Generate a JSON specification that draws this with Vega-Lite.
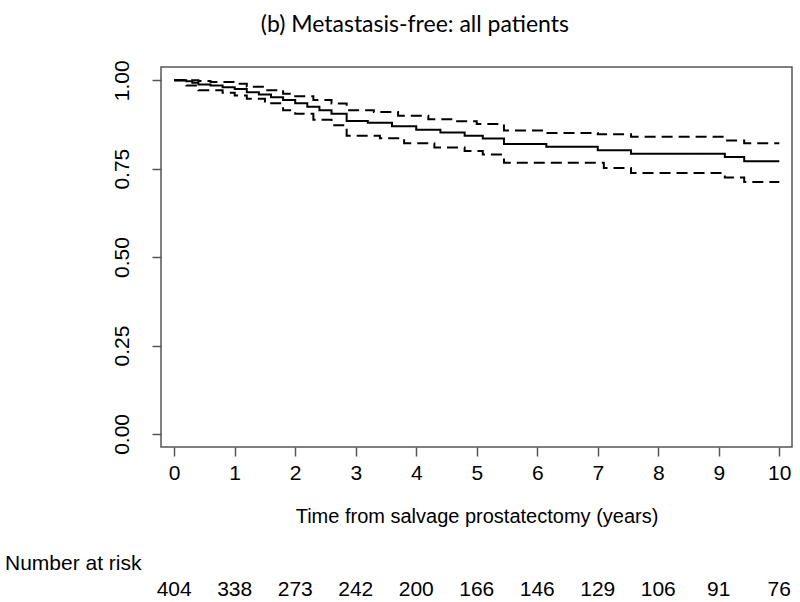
{
  "$schema": "https://vega.github.io/schema/vega-lite/v6.json",
  "padding": {"left": 5, "top": 14, "right": 0, "bottom": 0},
  "background": "white",
  "title": {"text": "(b)  Metastasis-free: all patients", "font": "Lato", "fontSize": 23, "fontWeight": "normal", "color": "black", "anchor": "middle", "dx": 16, "offset": 22},
  "config": {"view": {"stroke": null}, "font": "Liberation Sans"},
  "spacing": 26,
  "datasets": {
    "km": [
      {"time": 0, "surv": 1.0, "series": "estimate"},
      {"time": 0.2, "surv": 0.997, "series": "estimate"},
      {"time": 0.3, "surv": 0.993, "series": "estimate"},
      {"time": 0.4, "surv": 0.988, "series": "estimate"},
      {"time": 0.6, "surv": 0.985, "series": "estimate"},
      {"time": 0.8, "surv": 0.98, "series": "estimate"},
      {"time": 1.0, "surv": 0.975, "series": "estimate"},
      {"time": 1.2, "surv": 0.966, "series": "estimate"},
      {"time": 1.4, "surv": 0.96, "series": "estimate"},
      {"time": 1.6, "surv": 0.952, "series": "estimate"},
      {"time": 1.8, "surv": 0.944, "series": "estimate"},
      {"time": 2.0, "surv": 0.935, "series": "estimate"},
      {"time": 2.2, "surv": 0.925, "series": "estimate"},
      {"time": 2.4, "surv": 0.915, "series": "estimate"},
      {"time": 2.6, "surv": 0.905, "series": "estimate"},
      {"time": 2.85, "surv": 0.885, "series": "estimate"},
      {"time": 3.2, "surv": 0.88, "series": "estimate"},
      {"time": 3.6, "surv": 0.87, "series": "estimate"},
      {"time": 4.0, "surv": 0.86, "series": "estimate"},
      {"time": 4.4, "surv": 0.852, "series": "estimate"},
      {"time": 4.8, "surv": 0.843, "series": "estimate"},
      {"time": 5.1, "surv": 0.835, "series": "estimate"},
      {"time": 5.45, "surv": 0.82, "series": "estimate"},
      {"time": 6.15, "surv": 0.812, "series": "estimate"},
      {"time": 7.0, "surv": 0.802, "series": "estimate"},
      {"time": 7.55, "surv": 0.792, "series": "estimate"},
      {"time": 9.1, "surv": 0.783, "series": "estimate"},
      {"time": 9.42, "surv": 0.771, "series": "estimate"},
      {"time": 10.0, "surv": 0.771, "series": "estimate"},
      {"time": 0, "surv": 1.0, "series": "upper"},
      {"time": 0.4, "surv": 0.998, "series": "upper"},
      {"time": 0.6, "surv": 0.995, "series": "upper"},
      {"time": 1.0, "surv": 0.99, "series": "upper"},
      {"time": 1.2, "surv": 0.982, "series": "upper"},
      {"time": 1.5, "surv": 0.972, "series": "upper"},
      {"time": 1.8, "surv": 0.962, "series": "upper"},
      {"time": 2.0, "surv": 0.955, "series": "upper"},
      {"time": 2.3, "surv": 0.944, "series": "upper"},
      {"time": 2.6, "surv": 0.934, "series": "upper"},
      {"time": 2.85, "surv": 0.915, "series": "upper"},
      {"time": 3.3, "surv": 0.91, "series": "upper"},
      {"time": 3.7, "surv": 0.9, "series": "upper"},
      {"time": 4.2, "surv": 0.89, "series": "upper"},
      {"time": 4.6, "surv": 0.884, "series": "upper"},
      {"time": 5.0, "surv": 0.876, "series": "upper"},
      {"time": 5.45, "surv": 0.858, "series": "upper"},
      {"time": 6.15, "surv": 0.851, "series": "upper"},
      {"time": 7.0, "surv": 0.847, "series": "upper"},
      {"time": 7.55, "surv": 0.84, "series": "upper"},
      {"time": 9.1, "surv": 0.83, "series": "upper"},
      {"time": 9.42, "surv": 0.822, "series": "upper"},
      {"time": 10.0, "surv": 0.822, "series": "upper"},
      {"time": 0, "surv": 1.0, "series": "lower"},
      {"time": 0.2, "surv": 0.985, "series": "lower"},
      {"time": 0.4, "surv": 0.972, "series": "lower"},
      {"time": 0.8, "surv": 0.965, "series": "lower"},
      {"time": 1.0, "surv": 0.957, "series": "lower"},
      {"time": 1.2, "surv": 0.948, "series": "lower"},
      {"time": 1.5, "surv": 0.935, "series": "lower"},
      {"time": 1.8, "surv": 0.915, "series": "lower"},
      {"time": 2.0, "surv": 0.905, "series": "lower"},
      {"time": 2.3, "surv": 0.888, "series": "lower"},
      {"time": 2.6, "surv": 0.873, "series": "lower"},
      {"time": 2.85, "surv": 0.843, "series": "lower"},
      {"time": 3.4, "surv": 0.836, "series": "lower"},
      {"time": 3.8, "surv": 0.822, "series": "lower"},
      {"time": 4.3, "surv": 0.81, "series": "lower"},
      {"time": 4.8, "surv": 0.8, "series": "lower"},
      {"time": 5.1, "surv": 0.79, "series": "lower"},
      {"time": 5.45, "surv": 0.767, "series": "lower"},
      {"time": 7.1, "surv": 0.752, "series": "lower"},
      {"time": 7.55, "surv": 0.738, "series": "lower"},
      {"time": 9.1, "surv": 0.725, "series": "lower"},
      {"time": 9.42, "surv": 0.712, "series": "lower"},
      {"time": 10.0, "surv": 0.712, "series": "lower"}
    ],
    "risk": [
      {"time": 0, "n": 404}, {"time": 1, "n": 338}, {"time": 2, "n": 273},
      {"time": 3, "n": 242}, {"time": 4, "n": 200}, {"time": 5, "n": 166},
      {"time": 6, "n": 146}, {"time": 7, "n": 129}, {"time": 8, "n": 106},
      {"time": 9, "n": 91}, {"time": 10, "n": 76}
    ]
  },
  "vconcat": [
    {
      "width": 631,
      "height": 380,
      "view": {"stroke": "#555", "strokeWidth": 1.5},
      "data": {"name": "km"},
      "mark": {"type": "line", "interpolate": "step-after", "color": "black", "strokeWidth": 2},
      "encoding": {
        "x": {"field": "time", "type": "quantitative",
          "scale": {"domain": [-0.218, 10.21], "nice": false, "zero": false},
          "axis": {"values": [0,1,2,3,4,5,6,7,8,9,10], "grid": false, "domain": false, "tickSize": 9, "tickColor": "#555", "tickWidth": 1.5,
            "labelFont": "Liberation Sans", "labelFontSize": 21, "labelColor": "black", "labelPadding": 6,
            "title": "Time from salvage prostatectomy (years)", "titleFont": "Liberation Sans", "titleFontSize": 20, "titleFontWeight": "normal", "titleColor": "black", "titlePadding": 23}},
        "y": {"field": "surv", "type": "quantitative",
          "scale": {"domain": [-0.037, 1.0375], "nice": false, "zero": false},
          "axis": {"values": [0, 0.25, 0.5, 0.75, 1], "format": ".2f", "grid": false, "domain": false, "tickSize": 9, "tickColor": "#555", "tickWidth": 1.5,
            "labelFont": "Liberation Sans", "labelFontSize": 21, "labelColor": "black", "labelAngle": -90, "labelAlign": "center", "labelBaseline": "bottom", "labelPadding": 20,
            "title": null}},
        "detail": {"field": "series", "type": "nominal"},
        "strokeDash": {"field": "series", "type": "nominal",
          "scale": {"domain": ["estimate", "lower", "upper"], "range": [[1, 0], [11, 6], [11, 6]]},
          "legend": null}
      }
    },
    {
      "width": 631,
      "height": 20,
      "title": {"text": "Number at risk", "anchor": "start", "frame": "group", "dx": -156, "font": "Liberation Sans", "fontSize": 21, "fontWeight": "normal", "color": "black", "offset": 5},
      "data": {"name": "risk"},
      "mark": {"type": "text", "font": "Liberation Sans", "fontSize": 21, "color": "black", "baseline": "middle"},
      "encoding": {
        "x": {"field": "time", "type": "quantitative",
          "scale": {"domain": [-0.218, 10.21], "nice": false, "zero": false},
          "axis": null},
        "text": {"field": "n", "type": "quantitative"}
      }
    }
  ]
}
